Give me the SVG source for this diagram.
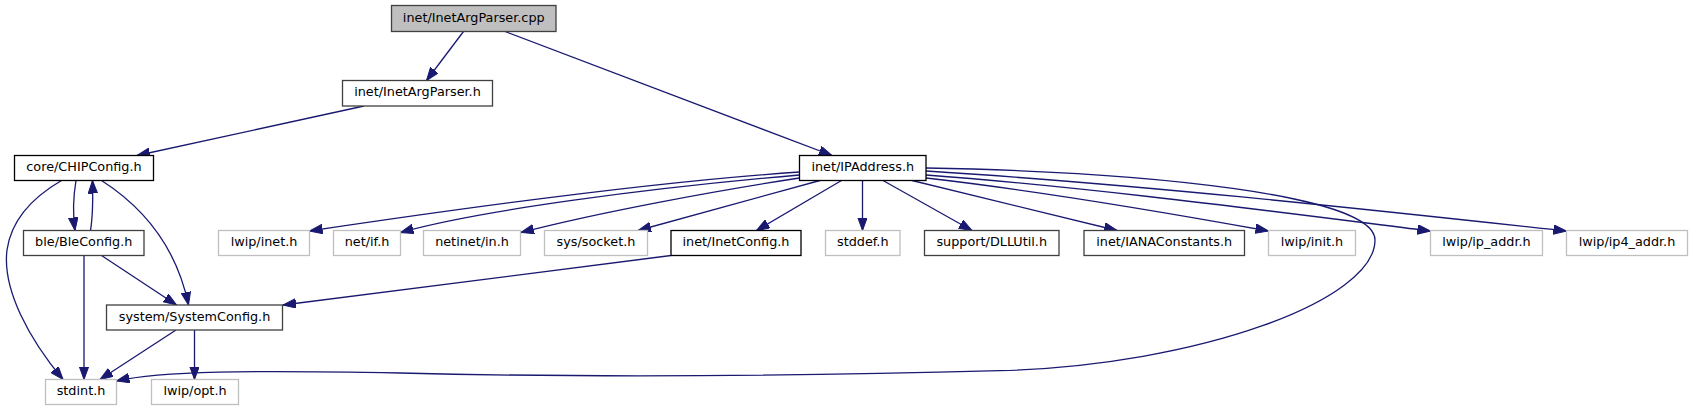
<svg xmlns="http://www.w3.org/2000/svg" width="1692" height="411" viewBox="0 0 1692 411">
<style>
.n rect{fill:#fff;stroke:#000;stroke-width:1.3}
.n.g rect{stroke:#bfbfbf}
.n.d rect{stroke:#404040}
.n.root rect{fill:#bfbfbf;stroke:#404040}
.n text{font-family:"DejaVu Sans",sans-serif;font-size:12.8px;fill:#000;text-anchor:middle}
.e path{fill:none;stroke:#191970;stroke-width:1.3;marker-end:url(#ah)}
</style>
<defs>
<marker id="ah" markerUnits="userSpaceOnUse" markerWidth="14" markerHeight="10" viewBox="0 0 14 10" refX="13" refY="4.75" orient="auto">
<path d="M0,0 L13,4.75 L0,9.5 z" fill="#191970" stroke="#191970" stroke-width="1"/>
</marker>
</defs>
<rect width="1692" height="411" fill="#fff"/>
<g id="connectors" class="e">
<path d="M463.5,31.5 L426.5,80.5"/>
<path d="M505,31.5 L832,155.5"/>
<path d="M364,106 L137,155.5"/>
<path d="M76,180.5 C73,198 72.5,212 75,230.5"/>
<path d="M90.5,230.5 C93,215 93,198 92.5,180.5"/>
<path d="M61.5,180.5 C40,193 12,215 7,250 C2,290 30,340 63,379.5"/>
<path d="M101.5,180.5 C135,202 175,240 188.5,305"/>
<path d="M84,255.5 L84,379.5"/>
<path d="M101.5,255.5 L176.5,305"/>
<path d="M176,330 L100,379.5"/>
<path d="M194.5,330 L194.5,379.5"/>
<path d="M671,255.5 L283,305"/>
<path d="M799.5,172 C650,182 450,210 309.5,231"/>
<path d="M799.5,175 C650,188 480,210 400.5,232.5"/>
<path d="M799.5,178 C720,190 600,212 521,232.5"/>
<path d="M820,180.5 L638,230.5"/>
<path d="M841.5,180.5 L756.5,230.5"/>
<path d="M862.5,180.5 L862.5,230.5"/>
<path d="M883,180.5 L972,230.5"/>
<path d="M912,180.5 L1117,230.5"/>
<path d="M926,178 C1050,192 1180,215 1268.5,231"/>
<path d="M926,175 C1100,188 1300,215 1430.5,231"/>
<path d="M926,171 C1150,185 1400,213 1566.5,231"/>
<path d="M926,168 C1150,172 1375,195 1375,240 C1375,300 1200,365 1000,370.7 C800,376 600,378 400,373 C250,370 160,371 116.5,381"/>
</g>
<g id="n_cpp" class="n root"><rect x="391.5" y="5.5" width="164.5" height="26"/><text x="473.75" y="21.5">inet/InetArgParser.cpp</text></g>
<g id="n_inetargparser_h" class="n d"><rect x="342.5" y="80.5" width="150" height="25.5"/><text x="417.5" y="96">inet/InetArgParser.h</text></g>
<g id="n_chipconfig" class="n"><rect x="14.5" y="155.5" width="139" height="25"/><text x="84" y="171">core/CHIPConfig.h</text></g>
<g id="n_ipaddress" class="n"><rect x="799.5" y="155.5" width="126.5" height="25"/><text x="862.75" y="171">inet/IPAddress.h</text></g>
<g id="n_bleconfig" class="n d"><rect x="23.5" y="230.5" width="120.5" height="25"/><text x="83.75" y="246">ble/BleConfig.h</text></g>
<g id="n_lwip_inet" class="n g"><rect x="218.5" y="230.5" width="91" height="25"/><text x="264" y="246">lwip/inet.h</text></g>
<g id="n_net_if" class="n g"><rect x="333.5" y="230.5" width="67" height="25"/><text x="367" y="246">net/if.h</text></g>
<g id="n_netinet_in" class="n g"><rect x="423.5" y="230.5" width="97" height="25"/><text x="472" y="246">netinet/in.h</text></g>
<g id="n_sys_socket" class="n g"><rect x="544.5" y="230.5" width="103" height="25"/><text x="596" y="246">sys/socket.h</text></g>
<g id="n_inetconfig" class="n"><rect x="671" y="230.5" width="130" height="25"/><text x="736" y="246">inet/InetConfig.h</text></g>
<g id="n_stddef" class="n g"><rect x="825.5" y="230.5" width="74.5" height="25"/><text x="862.75" y="246">stddef.h</text></g>
<g id="n_dllutil" class="n d"><rect x="924.5" y="230.5" width="134.5" height="25"/><text x="991.75" y="246">support/DLLUtil.h</text></g>
<g id="n_ianaconstants" class="n d"><rect x="1084" y="230.5" width="160.5" height="25"/><text x="1164.25" y="246">inet/IANAConstants.h</text></g>
<g id="n_lwip_init" class="n g"><rect x="1268.5" y="230.5" width="87" height="25"/><text x="1312" y="246">lwip/init.h</text></g>
<g id="n_lwip_ip_addr" class="n g"><rect x="1430.5" y="230.5" width="112" height="25"/><text x="1486.5" y="246">lwip/ip_addr.h</text></g>
<g id="n_lwip_ip4_addr" class="n g"><rect x="1566.5" y="230.5" width="121" height="25"/><text x="1627" y="246">lwip/ip4_addr.h</text></g>
<g id="n_systemconfig" class="n d"><rect x="106.5" y="305" width="176" height="25"/><text x="194.5" y="320.5">system/SystemConfig.h</text></g>
<g id="n_stdint" class="n g"><rect x="45.5" y="379.5" width="71" height="25"/><text x="81" y="395">stdint.h</text></g>
<g id="n_lwip_opt" class="n g"><rect x="151.5" y="379.5" width="87" height="25"/><text x="195" y="395">lwip/opt.h</text></g>
</svg>
